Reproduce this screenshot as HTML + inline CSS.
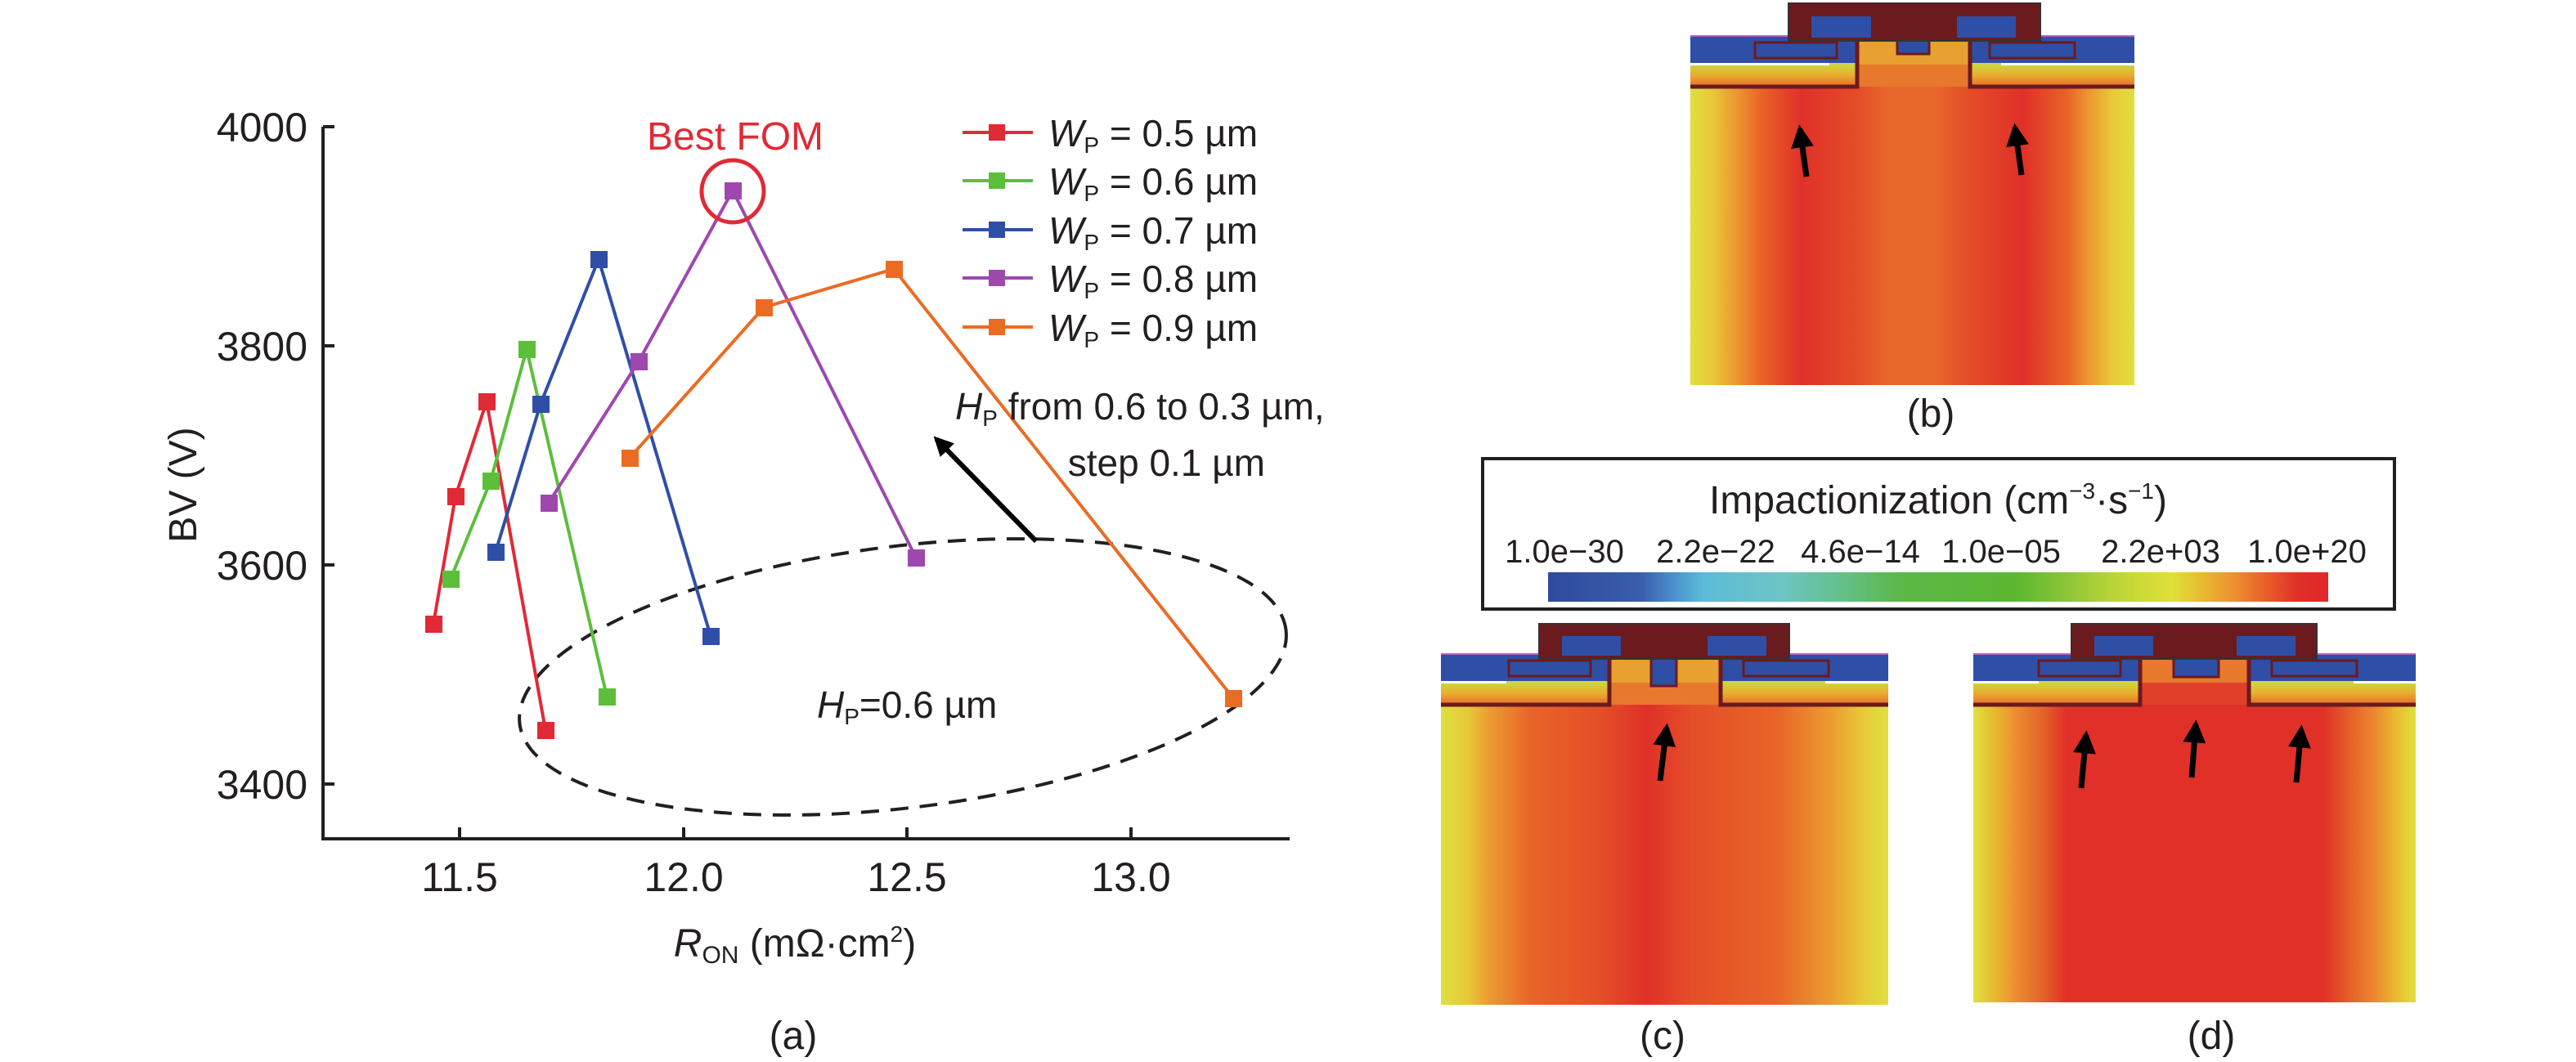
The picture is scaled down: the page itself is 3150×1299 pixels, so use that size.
<!DOCTYPE html>
<html><head><meta charset="utf-8"><style>
html,body{margin:0;padding:0;background:#fff;}
svg{display:block;}
text{font-family:"Liberation Sans",sans-serif;fill:#231f20;}
</style></head><body>
<svg width="3150" height="1299" viewBox="0 0 3150 1299" xmlns="http://www.w3.org/2000/svg">
<defs>
<linearGradient id="gb" x1="0" x2="1" y1="0" y2="0">
<stop offset="0" stop-color="#dfe040"/><stop offset="0.05" stop-color="#e8c838"/><stop offset="0.1" stop-color="#ec9a30"/><stop offset="0.16" stop-color="#e86428"/><stop offset="0.25" stop-color="#e03028"/><stop offset="0.38" stop-color="#e44e28"/><stop offset="0.45" stop-color="#e8682c"/><stop offset="0.55" stop-color="#e8682c"/><stop offset="0.62" stop-color="#e44e28"/><stop offset="0.75" stop-color="#e03028"/><stop offset="0.85" stop-color="#e86428"/><stop offset="0.9" stop-color="#ec9a30"/><stop offset="0.95" stop-color="#e8c838"/><stop offset="1" stop-color="#dfe040"/>
</linearGradient>
<linearGradient id="gc" x1="0" x2="1" y1="0" y2="0">
<stop offset="0" stop-color="#dfe040"/><stop offset="0.06" stop-color="#e8c838"/><stop offset="0.11" stop-color="#ec9a30"/><stop offset="0.2" stop-color="#e86428"/><stop offset="0.36" stop-color="#e44e28"/><stop offset="0.46" stop-color="#e03028"/><stop offset="0.56" stop-color="#e44e28"/><stop offset="0.75" stop-color="#e86428"/><stop offset="0.87" stop-color="#ec9a30"/><stop offset="0.94" stop-color="#e8c838"/><stop offset="1" stop-color="#dfe040"/>
</linearGradient>
<linearGradient id="gd" x1="0" x2="1" y1="0" y2="0">
<stop offset="0" stop-color="#dfe040"/><stop offset="0.05" stop-color="#e8b830"/><stop offset="0.1" stop-color="#ec8a30"/><stop offset="0.16" stop-color="#e46028"/><stop offset="0.21" stop-color="#e03028"/><stop offset="0.79" stop-color="#e03028"/><stop offset="0.85" stop-color="#e46028"/><stop offset="0.91" stop-color="#ec8a30"/><stop offset="0.96" stop-color="#e8c030"/><stop offset="1" stop-color="#dfe040"/>
</linearGradient>
<linearGradient id="band" x1="0" x2="0" y1="0" y2="1">
<stop offset="0" stop-color="#c8dc40"/><stop offset="0.5" stop-color="#e8b030"/><stop offset="1" stop-color="#e86a2a"/>
</linearGradient>
<linearGradient id="cbar" x1="0" x2="1" y1="0" y2="0">
<stop offset="0" stop-color="#2e4a9e"/><stop offset="0.12" stop-color="#3a5eae"/><stop offset="0.16" stop-color="#4a90cc"/><stop offset="0.2" stop-color="#5cbcd8"/><stop offset="0.3" stop-color="#6cc4c4"/><stop offset="0.38" stop-color="#64c088"/><stop offset="0.45" stop-color="#5cb848"/><stop offset="0.6" stop-color="#5cb830"/><stop offset="0.66" stop-color="#88c438"/><stop offset="0.72" stop-color="#b8d438"/><stop offset="0.8" stop-color="#e0e038"/><stop offset="0.84" stop-color="#e8b830"/><stop offset="0.88" stop-color="#ec9030"/><stop offset="0.92" stop-color="#e86028"/><stop offset="0.96" stop-color="#e03028"/><stop offset="1" stop-color="#e02828"/>
</linearGradient>
<marker id="ah" viewBox="0 0 10 10" refX="8" refY="5" markerWidth="4" markerHeight="4" orient="auto"><path d="M0,0 L10,5 L0,10 z" fill="#000"/></marker>
</defs>

<!-- ===== Panel (a) ===== -->
<g stroke="#231f20" stroke-width="4" fill="none">
<path d="M395,155 V1026 H1577"/>
<path d="M395,155 h14 M395,423 h14 M395,691 h14 M395,959 h14"/>
<path d="M562,1026 v-14 M836,1026 v-14 M1109,1026 v-14 M1383,1026 v-14"/>
</g>
<g font-size="50" text-anchor="end">
<text x="376" y="173">4000</text><text x="376" y="441">3800</text><text x="376" y="709">3600</text><text x="376" y="977">3400</text>
</g>
<g font-size="50" text-anchor="middle">
<text x="562" y="1090">11.5</text><text x="836" y="1090">12.0</text><text x="1109" y="1090">12.5</text><text x="1383" y="1090">13.0</text>
</g>
<text x="240" y="593" font-size="48" text-anchor="middle" transform="rotate(-90 240 593)">BV (V)</text>
<text x="972" y="1170" font-size="48" text-anchor="middle"><tspan font-style="italic">R</tspan><tspan font-size="30" dy="8">ON</tspan><tspan dy="-8"> (mΩ·cm</tspan><tspan font-size="28" dy="-18">2</tspan><tspan dy="18">)</tspan></text>
<text x="970" y="1283" font-size="48" text-anchor="middle">(a)</text>

<ellipse cx="1104" cy="828" rx="472" ry="160" transform="rotate(-7 1104 828)" fill="none" stroke="#231f20" stroke-width="4" stroke-dasharray="22 14"/>

<g stroke-width="4" fill="none">
<polyline stroke="#e02a36" points="530,763 557,607 595,491 667,893"/>
<polyline stroke="#5cbf3c" points="551,708 600,588 644,427 742,852"/>
<polyline stroke="#2f4fa6" points="606,675 661,494 732,317 869,778"/>
<polyline stroke="#9e48ae" points="671,615 781,442 896,233 1120,682"/>
<polyline stroke="#ea6c24" points="770,560 934,376 1093,329 1508,854"/>
</g>
<g>
<g fill="#e02a36"><rect x="520" y="753" width="21" height="21"/><rect x="547" y="597" width="21" height="21"/><rect x="585" y="481" width="21" height="21"/><rect x="657" y="883" width="21" height="21"/></g>
<g fill="#5cbf3c"><rect x="541" y="698" width="21" height="21"/><rect x="590" y="578" width="21" height="21"/><rect x="634" y="417" width="21" height="21"/><rect x="732" y="842" width="21" height="21"/></g>
<g fill="#2f4fa6"><rect x="596" y="665" width="21" height="21"/><rect x="651" y="484" width="21" height="21"/><rect x="722" y="307" width="21" height="21"/><rect x="859" y="768" width="21" height="21"/></g>
<g fill="#9e48ae"><rect x="661" y="605" width="21" height="21"/><rect x="771" y="432" width="21" height="21"/><rect x="886" y="223" width="21" height="21"/><rect x="1110" y="672" width="21" height="21"/></g>
<g fill="#ea6c24"><rect x="760" y="550" width="21" height="21"/><rect x="924" y="366" width="21" height="21"/><rect x="1083" y="319" width="21" height="21"/><rect x="1498" y="844" width="21" height="21"/></g>
</g>
<circle cx="896" cy="234" r="38" fill="none" stroke="#e02a36" stroke-width="5"/>
<text x="899" y="183" font-size="48" text-anchor="middle" style="fill:#e02a36">Best FOM</text>

<g stroke-width="4">
<line x1="1177" y1="162" x2="1263" y2="162" stroke="#e02a36"/><rect x="1209" y="152" width="20" height="20" fill="#e02a36"/>
<line x1="1177" y1="221" x2="1263" y2="221" stroke="#5cbf3c"/><rect x="1209" y="211" width="20" height="20" fill="#5cbf3c"/>
<line x1="1177" y1="281" x2="1263" y2="281" stroke="#2f4fa6"/><rect x="1209" y="271" width="20" height="20" fill="#2f4fa6"/>
<line x1="1177" y1="340" x2="1263" y2="340" stroke="#9e48ae"/><rect x="1209" y="330" width="20" height="20" fill="#9e48ae"/>
<line x1="1177" y1="400" x2="1263" y2="400" stroke="#ea6c24"/><rect x="1209" y="390" width="20" height="20" fill="#ea6c24"/>
</g>
<g font-size="46">
<text x="1282" y="179"><tspan font-style="italic">W</tspan><tspan font-size="28" dy="8">P</tspan><tspan dy="-8"> = 0.5 µm</tspan></text>
<text x="1282" y="238"><tspan font-style="italic">W</tspan><tspan font-size="28" dy="8">P</tspan><tspan dy="-8"> = 0.6 µm</tspan></text>
<text x="1282" y="298"><tspan font-style="italic">W</tspan><tspan font-size="28" dy="8">P</tspan><tspan dy="-8"> = 0.7 µm</tspan></text>
<text x="1282" y="357"><tspan font-style="italic">W</tspan><tspan font-size="28" dy="8">P</tspan><tspan dy="-8"> = 0.8 µm</tspan></text>
<text x="1282" y="417"><tspan font-style="italic">W</tspan><tspan font-size="28" dy="8">P</tspan><tspan dy="-8"> = 0.9 µm</tspan></text>
</g>
<text x="1168" y="513" font-size="46"><tspan font-style="italic">H</tspan><tspan font-size="28" dy="8">P</tspan><tspan dy="-8"> from 0.6 to 0.3 µm,</tspan></text>
<text x="1547" y="582" font-size="46" text-anchor="end">step 0.1 µm</text>
<line x1="1267" y1="662" x2="1145" y2="537" stroke="#000" stroke-width="6" marker-end="url(#ah)"/>
<text x="999" y="878" font-size="46"><tspan font-style="italic">H</tspan><tspan font-size="28" dy="8">P</tspan><tspan dy="-8">=0.6 µm</tspan></text>

<!-- ===== Panel (b) ===== -->
<g transform="translate(2067,46)">
<rect x="0" y="0" width="543" height="425" fill="url(#gb)"/>
<rect x="0" y="31" width="543" height="29" fill="url(#band)"/>
<rect x="204" y="0" width="138" height="60" fill="#e8782c"/>
<rect x="0" y="-2" width="543" height="33" fill="#2f4fa6"/>
<rect x="0" y="-3" width="543" height="2" fill="#c060c0"/>
<rect x="0" y="31" width="170" height="3" fill="#fff"/><rect x="380" y="31" width="163" height="3" fill="#fff"/>
<rect x="204" y="-2" width="138" height="35" fill="#e8a030"/>
<rect x="79" y="6" width="100" height="19" fill="#2f4fa6" stroke="#6b1a1e" stroke-width="3"/>
<rect x="366" y="6" width="104" height="19" fill="#2f4fa6" stroke="#6b1a1e" stroke-width="3"/>
<rect x="253" y="0" width="39" height="20" fill="#2f4fa6" stroke="#6b1a1e" stroke-width="3"/>
<path d="M0,60 H204 V0 M543,60 H342 V0" stroke="#6b1a1e" stroke-width="5" fill="none"/>
<rect x="120" y="-42" width="308" height="46" fill="#6b1a1e" stroke="#333" stroke-width="2"/>
<rect x="148" y="-26" width="73" height="26" fill="#2f4fa6"/><rect x="326" y="-26" width="72" height="26" fill="#2f4fa6"/>
<line x1="142" y1="170" x2="134" y2="112" stroke="#000" stroke-width="7" marker-end="url(#ah)"/>
<line x1="405" y1="168" x2="397" y2="110" stroke="#000" stroke-width="7" marker-end="url(#ah)"/>
</g>
<text x="2361" y="522" font-size="48" text-anchor="middle">(b)</text>

<rect x="1813" y="561" width="1115" height="184" fill="#fff" stroke="#231f20" stroke-width="4"/>
<text x="2370" y="628" font-size="48" text-anchor="middle">Impactionization (cm<tspan font-size="28" dy="-18">−3</tspan><tspan dy="18">·s</tspan><tspan font-size="28" dy="-18">−1</tspan><tspan dy="18">)</tspan></text>
<g font-size="40" text-anchor="middle">
<text x="1913" y="688">1.0e−30</text><text x="2098" y="688">2.2e−22</text><text x="2275" y="688">4.6e−14</text><text x="2447" y="688">1.0e−05</text><text x="2642" y="688">2.2e+03</text><text x="2821" y="688">1.0e+20</text>
</g>
<rect x="1893" y="700" width="954" height="36" fill="url(#cbar)"/>

<!-- ===== Panel (c) ===== -->
<g transform="translate(1762,802)">
<rect x="0" y="0" width="547" height="427" fill="url(#gc)"/>
<rect x="0" y="31" width="547" height="29" fill="url(#band)"/>
<rect x="204" y="0" width="138" height="60" fill="#e8782c"/>
<rect x="0" y="-2" width="547" height="33" fill="#2f4fa6"/>
<rect x="0" y="-3" width="547" height="2" fill="#c060c0"/>
<rect x="0" y="31" width="80" height="3" fill="#fff"/><rect x="470" y="31" width="77" height="3" fill="#fff"/>
<rect x="204" y="-2" width="138" height="35" fill="#e8a030"/>
<rect x="83" y="6" width="100" height="19" fill="#2f4fa6" stroke="#6b1a1e" stroke-width="3"/>
<rect x="370" y="6" width="104" height="19" fill="#2f4fa6" stroke="#6b1a1e" stroke-width="3"/>
<rect x="257" y="0" width="31" height="37" fill="#2f4fa6" stroke="#6b1a1e" stroke-width="3"/>
<path d="M0,60 H206 V0 M547,60 H342 V0" stroke="#6b1a1e" stroke-width="5" fill="none"/>
<rect x="120" y="-39" width="306" height="43" fill="#6b1a1e" stroke="#333" stroke-width="2"/>
<rect x="148" y="-24" width="72" height="24" fill="#2f4fa6"/><rect x="326" y="-24" width="72" height="24" fill="#2f4fa6"/>
<line x1="268" y1="153" x2="276" y2="88" stroke="#000" stroke-width="7" marker-end="url(#ah)"/>
</g>
<text x="2033" y="1283" font-size="48" text-anchor="middle">(c)</text>

<!-- ===== Panel (d) ===== -->
<g transform="translate(2413,802)">
<rect x="0" y="0" width="541" height="424" fill="url(#gd)"/>
<rect x="0" y="31" width="541" height="29" fill="url(#band)"/>
<rect x="204" y="0" width="133" height="60" fill="#e0402a"/>
<rect x="0" y="-2" width="541" height="33" fill="#2f4fa6"/>
<rect x="0" y="-3" width="541" height="2" fill="#c060c0"/>
<rect x="0" y="31" width="80" height="3" fill="#fff"/><rect x="465" y="31" width="76" height="3" fill="#fff"/>
<rect x="204" y="-2" width="133" height="35" fill="#e8782c"/>
<rect x="80" y="6" width="100" height="19" fill="#2f4fa6" stroke="#6b1a1e" stroke-width="3"/>
<rect x="365" y="6" width="104" height="19" fill="#2f4fa6" stroke="#6b1a1e" stroke-width="3"/>
<rect x="245" y="0" width="55" height="26" fill="#2f4fa6" stroke="#6b1a1e" stroke-width="3"/>
<path d="M0,60 H204 V0 M541,60 H337 V0" stroke="#6b1a1e" stroke-width="5" fill="none"/>
<rect x="120" y="-39" width="300" height="43" fill="#6b1a1e" stroke="#333" stroke-width="2"/>
<rect x="148" y="-24" width="72" height="24" fill="#2f4fa6"/><rect x="322" y="-24" width="72" height="24" fill="#2f4fa6"/>
<line x1="132" y1="162" x2="138" y2="97" stroke="#000" stroke-width="7" marker-end="url(#ah)"/>
<line x1="267" y1="149" x2="272" y2="84" stroke="#000" stroke-width="7" marker-end="url(#ah)"/>
<line x1="395" y1="155" x2="401" y2="90" stroke="#000" stroke-width="7" marker-end="url(#ah)"/>
</g>
<text x="2704" y="1283" font-size="48" text-anchor="middle">(d)</text>
</svg>
</body></html>
